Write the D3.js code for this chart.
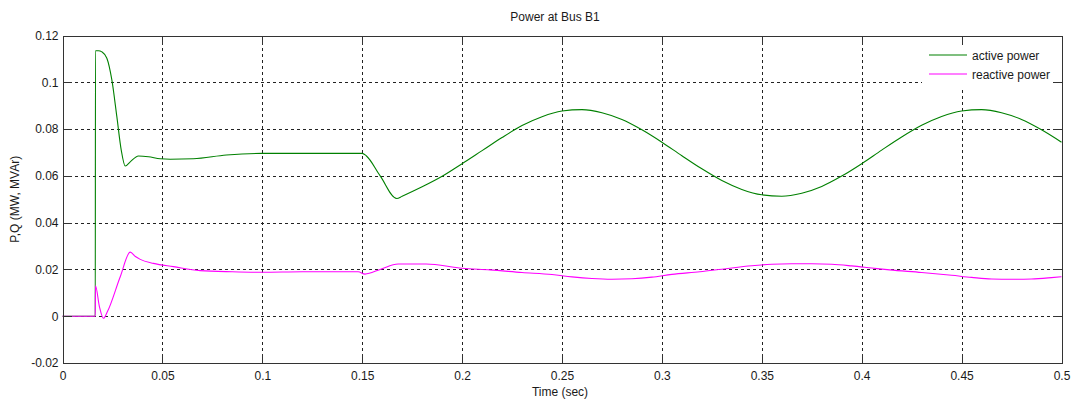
<!DOCTYPE html>
<html>
<head>
<meta charset="utf-8">
<script src="https://cdn.jsdelivr.net/npm/d3@7"></script>
<style>
  html, body { margin: 0; padding: 0; background: #fff; }
  svg { display: block; font-family: "Liberation Sans", Arial, sans-serif; }
  .tick text { font-size: 12px; fill: #1a1a1a; }
</style>
</head>
<body>
<svg id="chart" width="1071" height="403"></svg>
<script>
// Simulation output: active and reactive power measured at bus B1
const activeTime = [0, 0.0164, 0.0165, 0.0180, 0.0197, 0.0222, 0.0247, 0.0272, 0.0294, 0.0314,
  0.0339, 0.0380, 0.0430, 0.0489, 0.0539, 0.0655, 0.0820, 0.0997, 0.1500, 0.1520, 0.1590,
  0.1673, 0.17, 0.18, 0.19, 0.20, 0.21, 0.22, 0.23, 0.24, 0.25, 0.26, 0.27, 0.28, 0.29, 0.30,
  0.31, 0.32, 0.33, 0.34, 0.35, 0.36, 0.37, 0.38, 0.39, 0.40, 0.41, 0.42, 0.43, 0.44,
  0.45, 0.46, 0.47, 0.48, 0.49, 0.50];
const activePower = [0, 0, 0.1135, 0.1135, 0.1130, 0.1103, 0.1010, 0.0853, 0.0710, 0.0642,
  0.0660, 0.0685, 0.0682, 0.0673, 0.0671, 0.0673, 0.0689, 0.0696, 0.0696, 0.0686, 0.0600,
  0.0503, 0.0513, 0.0553, 0.0598, 0.0652, 0.0708, 0.0764, 0.0815, 0.0853, 0.0877, 0.0883, 0.0870,
  0.0841, 0.0797, 0.0744, 0.0686, 0.0630, 0.0580, 0.0542, 0.0519, 0.0513, 0.0526, 0.0555,
  0.0599, 0.0652, 0.0710, 0.0766, 0.0816, 0.0854, 0.0877, 0.0883, 0.0870, 0.0841, 0.0797,
  0.0744];

const reactiveTime = [0, 0.0164, 0.0165, 0.0185, 0.0205, 0.0225, 0.0289, 0.0339, 0.0365,
  0.0389, 0.0455, 0.0555, 0.0689, 0.085, 0.100, 0.120, 0.148, 0.1514, 0.159, 0.168, 0.182,
  0.200, 0.214, 0.230, 0.245, 0.255, 0.265, 0.275, 0.285, 0.295, 0.305, 0.319, 0.330,
  0.345, 0.355, 0.365, 0.375, 0.385, 0.395, 0.405, 0.414, 0.430, 0.445, 0.455, 0.465,
  0.475, 0.485, 0.495, 0.500];
const reactivePower = [0, 0, 0.0130, 0.0040, -0.0009, 0.0020, 0.0169, 0.0274, 0.0255,
  0.0243, 0.0226, 0.0212, 0.0195, 0.0190, 0.0188, 0.0190, 0.0190, 0.0180, 0.0200, 0.0223,
  0.0223, 0.0205, 0.0198, 0.0187, 0.0178, 0.0168, 0.0161, 0.0158, 0.0160, 0.0167, 0.0179,
  0.0190, 0.0201, 0.0216, 0.0222, 0.0224, 0.0224, 0.0222, 0.0215, 0.0206, 0.0198, 0.0187,
  0.0175, 0.0166, 0.0159, 0.0158, 0.0159, 0.0165, 0.0169];

const xTicks = [0, 0.05, 0.1, 0.15, 0.2, 0.25, 0.3, 0.35, 0.4, 0.45, 0.5];
const xTickLabels = ["0", "0.05", "0.1", "0.15", "0.2", "0.25", "0.3", "0.35", "0.4", "0.45", "0.5"];
const yTicks = [-0.02, 0, 0.02, 0.04, 0.06, 0.08, 0.1, 0.12];
const yTickLabels = ["-0.02", "0", "0.02", "0.04", "0.06", "0.08", "0.1", "0.12"];

const seriesNames = ["active power", "reactive power"];
const seriesColors = ["#008000", "#ff00ff"];

const svg = d3.select("#chart");
const plotLeft = 62.5, plotRight = 1061.5, plotTop = 35.5, plotBottom = 363;
const plotW = plotRight - plotLeft, plotH = plotBottom - plotTop;

const x = d3.scaleLinear().domain([0, 0.5]).range([plotLeft, plotRight]);
const y = d3.scaleLinear().domain([-0.02, 0.12]).range([plotBottom, plotTop]);

// dotted grid
const gridX = svg.append("g").attr("transform", `translate(0,${plotBottom})`)
  .call(d3.axisBottom(x).tickValues(xTicks.slice(1, -1)).tickSize(-plotH).tickFormat(""));
const gridY = svg.append("g").attr("transform", `translate(${plotLeft},0)`)
  .call(d3.axisLeft(y).tickValues(yTicks.slice(1, -1)).tickSize(-plotW).tickFormat(""));
[gridX, gridY].forEach(g => {
  g.select(".domain").remove();
  g.selectAll("line").attr("stroke", "#222").attr("stroke-dasharray", "3,3")
    .attr("shape-rendering", "crispEdges");
});

// curves
const plot = svg.append("g");
const curves = [
  activeTime.map((t, i) => [t, activePower[i]]),
  reactiveTime.map((t, i) => [t, reactivePower[i]])
];
const line = d3.line().x(d => x(d[0])).y(d => y(d[1])).curve(d3.curveMonotoneX);
curves.forEach((c, i) => {
  plot.append("path").datum(c).attr("d", line)
    .attr("fill", "none").attr("stroke", seriesColors[i]).attr("stroke-width", 1.1);
});

// legend
const lg = svg.append("g");
lg.append("rect").attr("x", 922).attr("y", 46).attr("width", 134).attr("height", 41).attr("fill", "#fff");
seriesNames.forEach((name, i) => {
  const yy = 55 + i * 19;
  lg.append("line").attr("x1", 929).attr("x2", 967).attr("y1", yy).attr("y2", yy)
    .attr("stroke", seriesColors[i]).attr("stroke-width", 1.1);
  lg.append("text").attr("x", 972).attr("y", yy + 4.5).attr("font-size", 12).attr("fill", "#1a1a1a").text(name);
});

// axes with inward ticks on all four sides
const axB = svg.append("g").attr("transform", `translate(0,${plotBottom})`)
  .call(d3.axisBottom(x).tickValues(xTicks).tickSize(-9).tickPadding(8).tickFormat((d, i) => xTickLabels[i]));
const axT = svg.append("g").attr("transform", `translate(0,${plotTop})`)
  .call(d3.axisTop(x).tickValues(xTicks).tickSize(-9).tickFormat(""));
const axL = svg.append("g").attr("transform", `translate(${plotLeft},0)`)
  .call(d3.axisLeft(y).tickValues(yTicks).tickSize(-9).tickPadding(4).tickFormat((d, i) => yTickLabels[i]));
const axR = svg.append("g").attr("transform", `translate(${plotRight},0)`)
  .call(d3.axisRight(y).tickValues(yTicks).tickSize(-9).tickFormat(""));
[axB, axT, axL, axR].forEach(g => {
  g.selectAll(".domain").attr("stroke", "#333").attr("shape-rendering", "crispEdges");
  g.selectAll(".tick line").attr("stroke", "#333").attr("shape-rendering", "crispEdges");
  g.selectAll("text").attr("font-family", "'Liberation Sans', Arial, sans-serif");
});

// titles
svg.append("text").attr("x", 555).attr("y", 21).attr("text-anchor", "middle")
  .attr("font-size", 12).attr("fill", "#1a1a1a").text("Power at Bus B1");
svg.append("text").attr("x", 560).attr("y", 396).attr("text-anchor", "middle")
  .attr("font-size", 12).attr("fill", "#1a1a1a").text("Time (sec)");
svg.append("text").attr("transform", `translate(19,${(plotTop + plotBottom) / 2}) rotate(-90)`)
  .attr("text-anchor", "middle").attr("font-size", 12).attr("fill", "#1a1a1a").text("P,Q (MW, MVAr)");
</script>
</body>
</html>
